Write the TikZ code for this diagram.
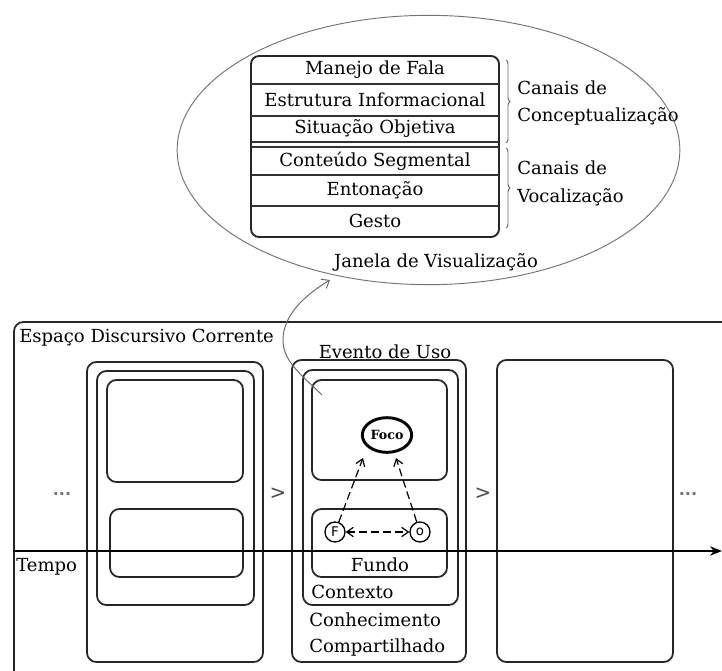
\documentclass[tikz,border=0pt]{standalone}
\usepackage{fontspec}
\setmainfont{DejaVu Serif}
\newfontfamily\sansf{DejaVu Sans}
\usetikzlibrary{arrows.meta,fit,shapes.geometric,decorations.pathreplacing,calc}
\begin{document}
\begin{tikzpicture}[x=0.75pt,y=-0.75pt,
  pbox/.style={draw=black!85, line width=1.3pt, rounded corners=7pt, inner sep=0pt},
  txt/.style={font=\fontsize{13.5}{15}\selectfont, inner sep=0pt},
  sepline/.style={draw=black!80, line width=1.1pt},
  gline/.style={draw=black!60, line width=0.7pt},
  barb/.tip={Straight Barb[length=5pt,width=7pt,line width=0.9pt]},
  dasharr/.style={dash pattern=on 6pt off 3pt, line width=0.9pt},
]
\useasboundingbox (0,0) rectangle (722,671);

% ---------- visualization window ----------
\node[ellipse, draw=black!55, line width=0.7pt, minimum width=377pt, minimum height=202pt, inner sep=0pt] (win) at (428.5,150) {};
\node[pbox, line width=1.4pt, rounded corners=6pt, fit={(251,56) (499,237)}] (tab) {};
\draw[sepline] (251,84) -- (499,84);
\draw[sepline] (251,116) -- (499,116);
\draw[sepline] (251,142) -- (499,142);
\draw[sepline] (251,147) -- (499,147);
\draw[sepline] (251,175) -- (499,175);
\draw[sepline] (251,206) -- (499,206);
\node[txt] (r1) at (375,70) {Manejo de Fala};
\node[txt] (r2) at (375,100) {Estrutura Informacional};
\node[txt] (r3) at (375,129) {Situação Objetiva};
\node[txt] (r4) at (375,161) {Conteúdo Segmental};
\node[txt] (r5) at (375,190) {Entonação};
\node[txt] (r6) at (375,221) {Gesto};
\draw[gline, decorate, decoration={brace, amplitude=3pt}] (506,60) -- (506,143);
\draw[gline, decorate, decoration={brace, amplitude=3pt}] (506,148) -- (506,228);
\node[txt, anchor=west] (c1) at (517,88) {Canais de};
\node[txt, anchor=west] (c2) at (517,116) {Conceptualização};
\node[txt, anchor=west] (v1) at (517,168) {Canais de};
\node[txt, anchor=west] (v2) at (517,197) {Vocalização};
\node[txt] (janela) at (436,262) {Janela de Visualização};

% ---------- discourse space ----------
\node[pbox, fit={(14,322) (740,690)}] (frame) {};
\node[txt, anchor=west] (espaco) at (19,338) {Espaço Discursivo Corrente};

% left panel
\node[pbox, fit={(87,362) (263,662)}] (L1) {};
\node[pbox, fit={(97,371) (254,605)}] (L2) {};
\node[pbox, fit={(107,380) (243,482)}] (L3) {};
\node[pbox, fit={(110,509) (243,577)}] (L4) {};

% middle panel
\node[pbox, fit={(292,360) (466,662)}] (M1) {};
\node[pbox, fit={(303,370) (458,605)}] (M2) {};
\node[pbox, fit={(312,380) (447,480)}] (M3) {};
\node[pbox, fit={(312,509) (447,577)}] (M4) {};
\node[txt] (evento) at (385,352) {Evento de Uso};
\node[txt] (fundo) at (380,565) {Fundo};
\node[txt, anchor=west] (contexto) at (311,592) {Contexto};
\node[txt, anchor=west] (conhec) at (309,620) {Conhecimento};
\node[txt, anchor=west] (compart) at (309,648) {Compartilhado};

\node[ellipse, draw, line width=2.2pt, minimum width=37pt, minimum height=26pt, inner sep=0pt, font=\fontsize{9.5}{10}\selectfont\bfseries] (foco) at (387,435) {Foco};
\node[circle, draw, line width=1pt, minimum size=15pt, inner sep=0pt, font=\sansf\fontsize{10}{11}\selectfont] (F) at (335,532) {F};
\node[circle, draw, line width=1pt, minimum size=15pt, inner sep=0pt, font=\sansf\fontsize{10}{11}\selectfont] (O) at (420,532) {o};
\coordinate (fa) at (363,458);
\coordinate (fb) at (396,458);
\draw[dasharr, -barb] (F) -- (fa);
\draw[dasharr, -barb] (O) -- (fb);
\draw[dasharr, barb-barb] (F) -- (O);

% right panel
\node[pbox, fit={(497,360) (673,662)}] (R1) {};

% separators and ellipses
\node[font=\sansf\fontsize{12}{12}\selectfont\bfseries, text=black!55] (dl) at (62,494) {...};
\node[font=\sansf\fontsize{12}{12}\selectfont\bfseries, text=black!55] (dr) at (688,494) {...};
\node[font=\sansf\fontsize{15}{15}\selectfont, text=black!70] (g1) at (278,494) {>};
\node[font=\sansf\fontsize{15}{15}\selectfont, text=black!70] (g2) at (483,494) {>};

% time axis
\node[txt, anchor=west] (tempo) at (16,567) {Tempo};
\coordinate (tend) at (722,551);
\draw[line width=1.3pt, -{Stealth[length=9pt,width=7pt]}] (frame.west |- tend) -- (tend);

% curved connector to window
\coordinate (cs) at (322,395);
\coordinate (ce) at (330,280);
\draw[gline, -{Straight Barb[length=5pt,width=8pt,line width=0.7pt]}] (cs) .. controls (298,372) and (283,360) .. (283,340) .. controls (283,315) and (305,295) .. (ce);
\end{tikzpicture}
\end{document}
